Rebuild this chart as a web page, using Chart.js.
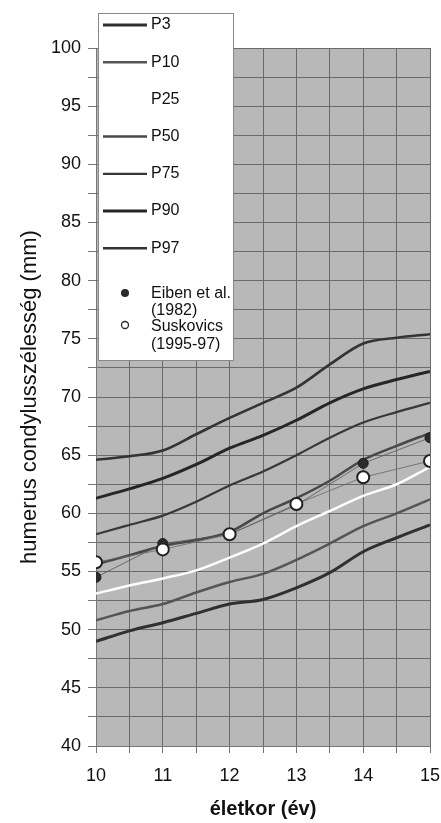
<!DOCTYPE html>
<html lang="hu">
<head>
<meta charset="UTF-8">
<title>Humerus condylusszélesség</title>
<script src="https://cdn.jsdelivr.net/npm/chart.js"></script>
<style>
  html, body { margin: 0; padding: 0; background: #fff; }
</style>
</head>
<body>
<canvas id="chart" width="441" height="823"></canvas>
<script>
// percentile curves, read every half year
const ages = [10, 10.5, 11, 11.5, 12, 12.5, 13, 13.5, 14, 14.5, 15];
const p3  = [49.0, 49.9, 50.6, 51.4, 52.2, 52.6, 53.6, 54.9, 56.7, 57.9, 59.0];
const p10 = [50.8, 51.6, 52.2, 53.2, 54.1, 54.8, 56.0, 57.4, 58.9, 60.0, 61.2];
const p25 = [53.1, 53.8, 54.4, 55.1, 56.2, 57.4, 58.9, 60.2, 61.5, 62.5, 64.0];
const p50 = [55.6, 56.4, 57.2, 57.7, 58.4, 60.0, 61.3, 62.8, 64.6, 65.8, 66.9];
const p75 = [58.2, 59.0, 59.8, 61.0, 62.4, 63.6, 65.0, 66.5, 67.8, 68.7, 69.5];
const p90 = [61.3, 62.1, 63.0, 64.2, 65.6, 66.7, 68.0, 69.5, 70.7, 71.5, 72.2];
const p97 = [64.6, 64.9, 65.4, 66.8, 68.2, 69.5, 70.8, 72.8, 74.6, 75.1, 75.4];

// sample means
const sampleAges = [10, 11, 12, 13, 14, 15];
const eiben = [54.5, 57.4, 58.2, 60.7, 64.3, 66.5];
const suskovics = [55.8, 56.9, 58.2, 60.8, 63.1, 64.5];

const percentileLabels = ['P3', 'P10', 'P25', 'P50', 'P75', 'P90', 'P97'];
const eibenLabel = ['Eiben et al.', '(1982)'];
const suskovicsLabel = ['Suskovics', '(1995-97)'];

const FONT = "'Liberation Sans', Arial, sans-serif";
Chart.defaults.font.family = FONT;
Chart.defaults.color = '#111';

function pts(xs, ys) {
  return xs.map((x, i) => ({ x: x, y: ys[i] }));
}

const curveStyle = {
  P3:  { color: '#303030', width: 3 },
  P10: { color: '#555555', width: 2.5 },
  P25: { color: '#ffffff', width: 2.5 },
  P50: { color: '#484848', width: 2.5 },
  P75: { color: '#383838', width: 2.2 },
  P90: { color: '#262626', width: 3 },
  P97: { color: '#333333', width: 2.6 }
};

const curveValues = [p3, p10, p25, p50, p75, p90, p97];
const curveSets = percentileLabels.map((lab, i) => ({
  label: lab,
  data: pts(ages, curveValues[i]),
  borderColor: curveStyle[lab].color,
  borderWidth: curveStyle[lab].width,
  pointRadius: 0,
  fill: false,
  cubicInterpolationMode: 'monotone',
  order: 2
}));

const datasets = curveSets.concat([
  {
    label: eibenLabel.join(' '),
    data: pts(sampleAges, eiben),
    borderColor: '#555',
    borderWidth: 0.8,
    pointRadius: 5,
    pointBackgroundColor: '#2b2b2b',
    pointBorderColor: '#1a1a1a',
    pointBorderWidth: 1,
    fill: false,
    order: 1
  },
  {
    label: suskovicsLabel.join(' '),
    data: pts(sampleAges, suskovics),
    borderColor: '#666',
    borderWidth: 0.8,
    pointRadius: 6,
    pointBackgroundColor: '#ffffff',
    pointBorderColor: '#222',
    pointBorderWidth: 2,
    fill: false,
    order: 0
  }
]);

const plotBg = {
  id: 'plotBg',
  beforeDraw(chart) {
    const { ctx, chartArea: a } = chart;
    ctx.save();
    ctx.fillStyle = '#b8b8b8';
    ctx.fillRect(a.left, a.top, a.right - a.left, a.bottom - a.top);
    ctx.restore();
  }
};

// boxed legend in the upper left corner, drawn from the dataset styles
const legendBox = {
  id: 'legendBox',
  afterDraw(chart) {
    const ctx = chart.ctx;
    const ds = chart.data.datasets;
    ctx.save();
    ctx.fillStyle = '#fff';
    ctx.fillRect(98, 13, 135, 347);
    ctx.strokeStyle = '#888';
    ctx.lineWidth = 1;
    ctx.strokeRect(98.5, 13.5, 135, 347);

    ctx.font = '16px ' + FONT;
    ctx.textBaseline = 'middle';
    ctx.textAlign = 'left';
    percentileLabels.forEach((lab, i) => {
      const d = ds[i];
      const y = 25 + i * 37.2;
      ctx.strokeStyle = d.borderColor;
      ctx.lineWidth = d.borderWidth;
      ctx.beginPath();
      ctx.moveTo(103, y);
      ctx.lineTo(147, y);
      ctx.stroke();
      ctx.fillStyle = '#111';
      ctx.fillText(lab, 151, y);
    });

    // Eiben marker
    ctx.fillStyle = '#2b2b2b';
    ctx.beginPath();
    ctx.arc(125, 293, 4, 0, Math.PI * 2);
    ctx.fill();
    ctx.fillStyle = '#111';
    ctx.fillText(eibenLabel[0], 151, 294);
    ctx.fillText(eibenLabel[1], 151, 311);

    // Suskovics marker
    ctx.fillStyle = '#fff';
    ctx.strokeStyle = '#222';
    ctx.lineWidth = 1.3;
    ctx.beginPath();
    ctx.arc(125, 325, 3.5, 0, Math.PI * 2);
    ctx.fill();
    ctx.stroke();
    ctx.fillStyle = '#111';
    ctx.fillText(suskovicsLabel[0], 151, 327);
    ctx.fillText(suskovicsLabel[1], 151, 345);
    ctx.restore();
  }
};

new Chart(document.getElementById('chart'), {
  type: 'line',
  data: { datasets: datasets },
  options: {
    responsive: false,
    animation: false,
    layout: { padding: { top: 48, right: 11, left: 0, bottom: 0 } },
    plugins: { legend: { display: false }, tooltip: { enabled: false } },
    scales: {
      x: {
        type: 'linear',
        min: 10,
        max: 15,
        afterFit: s => { s.height = 77; s.paddingLeft = 0; s.paddingRight = 0; },
        ticks: {
          stepSize: 0.5,
          autoSkip: false,
          maxRotation: 0,
          padding: 12,
          font: { size: 18 },
          callback: v => Number.isInteger(v) ? v : ''
        },
        grid: { color: '#6a6a6a', lineWidth: 1, tickLength: 7, tickColor: '#777' },
        border: { color: '#777' },
        title: {
          display: true,
          text: 'életkor (év)',
          font: { size: 20, weight: 'bold' },
          padding: { top: 0, bottom: 2 }
        }
      },
      y: {
        min: 40,
        max: 100,
        afterFit: s => { s.width = 96; },
        ticks: {
          stepSize: 2.5,
          autoSkip: false,
          padding: 7,
          font: { size: 18 },
          callback: v => v % 5 === 0 ? v : ''
        },
        grid: { color: '#6a6a6a', lineWidth: 1, tickLength: 8, tickColor: '#777' },
        border: { color: '#777' },
        title: {
          display: true,
          text: 'humerus condylusszélesség (mm)',
          font: { size: 22 },
          padding: { top: 17, bottom: 0 }
        }
      }
    }
  },
  plugins: [plotBg, legendBox]
});
</script>
</body>
</html>
